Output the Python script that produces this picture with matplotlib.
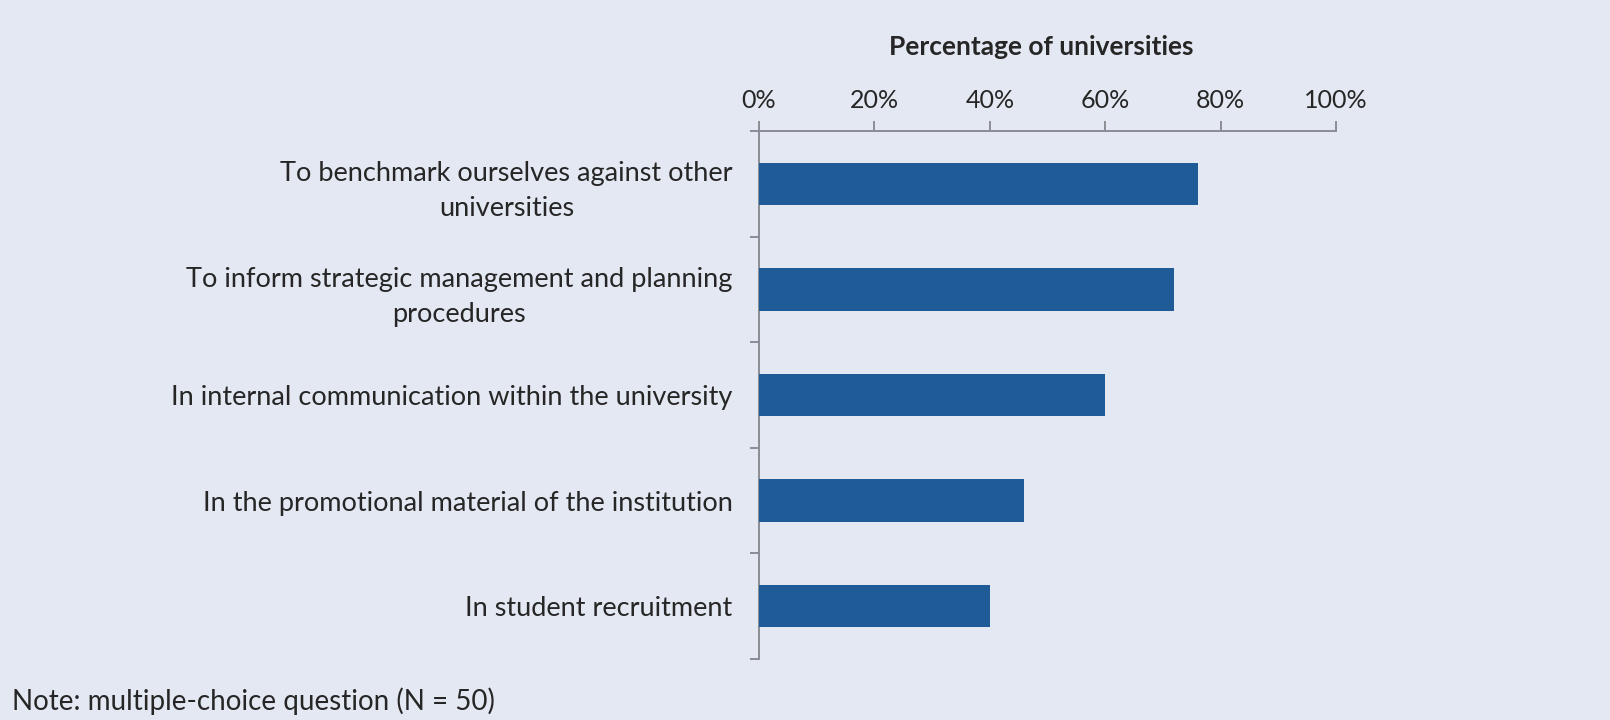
import matplotlib.pyplot as plt
from matplotlib.ticker import FixedLocator, PercentFormatter

# survey answers, top to bottom
USES = [
    "To benchmark ourselves against other\nuniversities",
    "To inform strategic management and planning\nprocedures",
    "In internal communication within the university",
    "In the promotional material of the institution",
    "In student recruitment",
]
SHARE_PCT = [76, 72, 60, 46, 40]
X_TICKS = [0, 20, 40, 60, 80, 100]

BG = "#e4e8f2"
BAR = "#1f5b96"
AXIS = "#8a8d94"
TEXT = "#262626"

plt.rcParams["font.family"] = ["Lato", "DejaVu Sans"]

fig = plt.figure(figsize=(16.1, 7.2), dpi=100, facecolor=BG)
ax = fig.add_axes([759 / 1610, 61 / 720, 577 / 1610, 528 / 720])
ax.set_facecolor(BG)

pos = list(range(len(USES)))
ax.barh(pos, SHARE_PCT, height=0.4, color=BAR, zorder=3)

ax.set_xlim(0, 100)
ax.set_ylim(len(USES) - 0.5, -0.5)

# percentage scale on top
ax.xaxis.tick_top()
ax.set_xticks(X_TICKS)
ax.xaxis.set_major_formatter(PercentFormatter(decimals=0))
ax.tick_params(axis="x", which="major", direction="out", length=7, width=1.4,
               color=AXIS, labelsize=18, labelcolor=TEXT, pad=7)

# category labels with separator ticks between them
ax.set_yticks(pos)
ax.set_yticklabels(USES, multialignment="center", linespacing=1.5)
ax.yaxis.set_minor_locator(FixedLocator([p - 0.5 for p in range(len(USES) + 1)]))
ax.tick_params(axis="y", which="major", length=0, pad=19, labelsize=19.5, labelcolor=TEXT)
ax.tick_params(axis="y", which="minor", direction="out", length=6.5, width=1.4, color=AXIS)

for side in ("right", "bottom"):
    ax.spines[side].set_visible(False)
for side in ("left", "top"):
    ax.spines[side].set_color(AXIS)
    ax.spines[side].set_linewidth(1.4)

fig.text(1041 / 1610, 1 - 47 / 720, "Percentage of universities", ha="center", va="center",
         fontsize=19, fontweight="bold", color=TEXT)
fig.text(12 / 1610, 1 - 701 / 720, "Note: multiple-choice question (N = 50)", ha="left",
         va="center", fontsize=20, color=TEXT)

fig.savefig("out.png", dpi=100, facecolor=BG)
